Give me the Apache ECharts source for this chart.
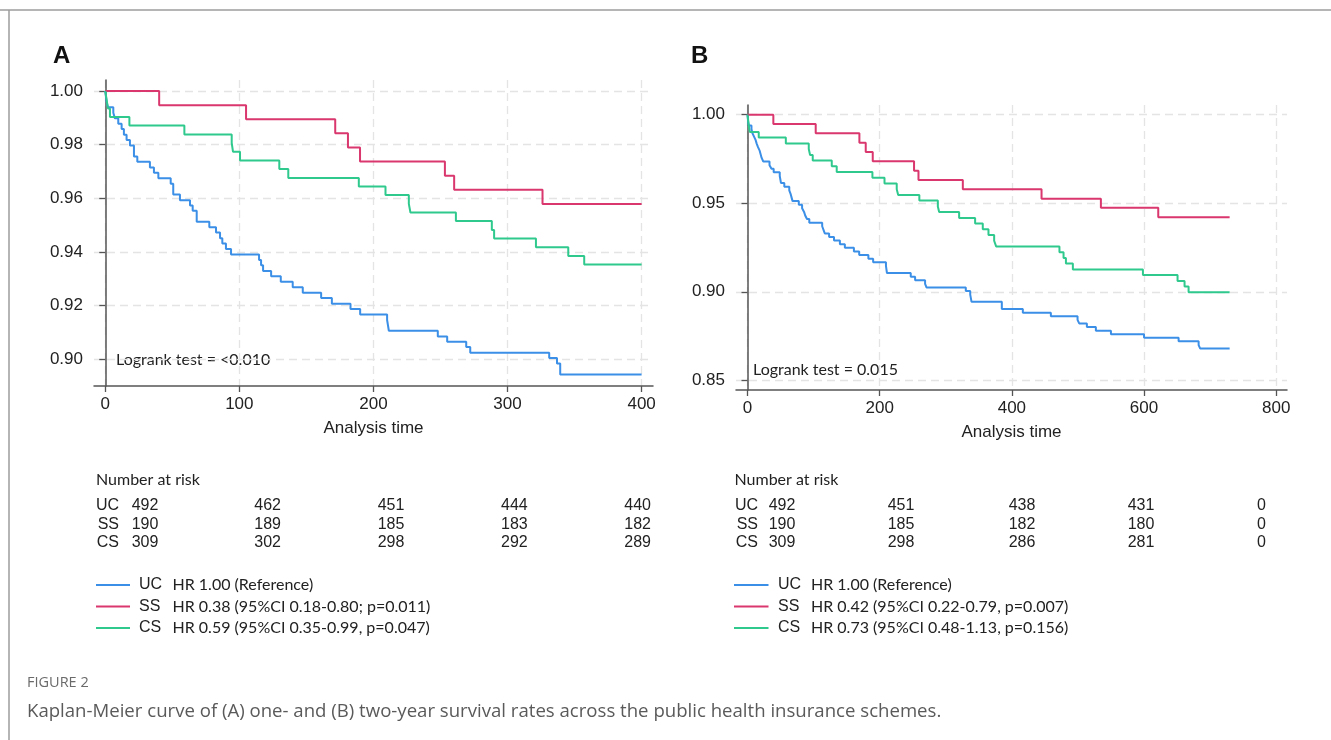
<!DOCTYPE html>
<html><head><meta charset="utf-8">
<script src="https://cdn.jsdelivr.net/npm/echarts@6/dist/echarts.min.js"></script>
<style>html,body{margin:0;padding:0;background:#fff;}#c{width:1331px;height:740px;}</style>
</head><body><div id="c"></div>
<script>
// ---------- data ----------
const groups = ['UC', 'SS', 'CS'];
const groupColors = ['#3b8fe6', '#d9376e', '#2fc98e'];

const xTicksA = [0, 100, 200, 300, 400];
const yTicksA = [0.90, 0.92, 0.94, 0.96, 0.98, 1.00];
const xTicksB = [0, 200, 400, 600, 800];
const yTicksB = [0.85, 0.90, 0.95, 1.00];

// Panel A (one-year) Kaplan-Meier steps: [time, survival]
const ucA = [[0,1],[0.5,0.9980],[1,0.9959],[2,0.9939],[6,0.9919],[7.2,0.9898],[9.7,0.9878],[12.2,0.9858],[13.9,0.9837],[15.9,0.9817],[18.4,0.9797],[21.4,0.9756],[23.9,0.9736],[33.3,0.9715],[36.3,0.9695],[39.6,0.9675],[48.8,0.9654],[50.7,0.9614],[55.7,0.9593],[63.2,0.9573],[65.2,0.9553],[68.2,0.9512],[77.6,0.9492],[82.6,0.9472],[85.6,0.9451],[87.3,0.9431],[90,0.9411],[93.8,0.9390],[114.7,0.9370],[116.2,0.9350],[117.7,0.9329],[123.7,0.9309],[130.9,0.9289],[139.8,0.9268],[147.3,0.9248],[161,0.9228],[169,0.9207],[182.9,0.9187],[190.1,0.9167],[210.2,0.9146],[211.5,0.9106],[248,0.9085],[255,0.9065],[269.2,0.9045],[272.2,0.9024],[331.1,0.9004],[336.9,0.8984],[339.3,0.8943],[400,0.8943]];
const ssA = [[0,1],[40.2,0.9947],[105,0.9895],[171.5,0.9842],[181,0.9789],[190,0.9737],[253.3,0.9684],[260.2,0.9632],[326.1,0.9579],[400,0.9579]];
const csA = [[0,1],[1,0.9968],[2,0.9935],[3.5,0.9903],[18,0.9871],[59,0.9838],[94.3,0.9806],[95.3,0.9773],[100.5,0.9741],[129.8,0.9709],[136.5,0.9676],[189.1,0.9644],[209,0.9612],[226.4,0.9579],[227.6,0.9547],[261.5,0.9515],[288.3,0.9482],[290,0.9450],[321.2,0.9417],[345.3,0.9385],[357.2,0.9353],[400,0.9353]];

// Panel B (two-year)
const ucB = [[0,1],[0.5,0.9980],[1,0.9959],[2,0.9939],[6,0.9919],[7.2,0.9898],[9.7,0.9878],[12.2,0.9858],[13.9,0.9837],[15.9,0.9817],[18.4,0.9797],[21.4,0.9756],[23.9,0.9736],[33.3,0.9715],[36.3,0.9695],[39.6,0.9675],[48.8,0.9654],[50.7,0.9614],[55.7,0.9593],[63.2,0.9573],[65.2,0.9553],[68.2,0.9512],[77.6,0.9492],[82.6,0.9472],[85.6,0.9451],[87.3,0.9431],[90,0.9411],[93.5,0.9390],[113,0.9370],[115,0.9350],[117,0.9329],[123.5,0.9309],[130.9,0.9289],[139.8,0.9268],[147.3,0.9248],[161,0.9228],[169,0.9207],[182.9,0.9187],[190.1,0.9167],[209.5,0.9146],[211,0.9106],[247,0.9085],[253.6,0.9065],[268.7,0.9045],[271,0.9024],[330.3,0.9004],[337,0.8984],[339,0.8943],[384.8,0.8902],[416.6,0.8882],[459,0.8862],[499.4,0.8841],[501.9,0.8821],[513.5,0.8801],[527.1,0.8780],[549.9,0.8760],[600,0.8740],[652.3,0.8720],[682.6,0.8699],[685,0.8679],[729.5,0.8679]];
const ssB = [[0,1],[39.1,0.9947],[103.2,0.9895],[169.3,0.9842],[178.9,0.9789],[189.5,0.9737],[252,0.9684],[258.7,0.9632],[325.8,0.9579],[444.9,0.9526],[534.7,0.9474],[621.5,0.9421],[729.5,0.9421]];
const csB = [[0,1],[1,0.9968],[2,0.9935],[3.5,0.9903],[17,0.9871],[58,0.9838],[92.7,0.9806],[94.7,0.9773],[98.7,0.9741],[127.5,0.9709],[135,0.9676],[189,0.9644],[207.3,0.9612],[225.8,0.9579],[228,0.9547],[260,0.9515],[288,0.9482],[290,0.9450],[320.2,0.9417],[344.4,0.9385],[356,0.9353],[364.6,0.9320],[373.2,0.9288],[376.2,0.9256],[472,0.9223],[478.2,0.9191],[481.8,0.9159],[492.3,0.9126],[598.3,0.9094],[650.7,0.9061],[661.3,0.9029],[667.4,0.8997],[729.5,0.8997]];

// Number at risk
const riskA = [[492, 462, 451, 444, 440], [190, 189, 185, 183, 182], [309, 302, 298, 292, 289]];
const riskB = [[492, 451, 438, 431, 0], [190, 185, 182, 180, 0], [309, 298, 286, 281, 0]];

const hrA = ['HR 1.00 (Reference)', 'HR 0.38 (95%CI 0.18-0.80; p=0.011)', 'HR 0.59 (95%CI 0.35-0.99, p=0.047)'];
const hrB = ['HR 1.00 (Reference)', 'HR 0.42 (95%CI 0.22-0.79, p=0.007)', 'HR 0.73 (95%CI 0.48-1.13, p=0.156)'];
const logrankA = 'Logrank test = <0.010';
const logrankB = 'Logrank test = 0.015';
const panelLabels = ['A', 'B'];
const axisTitle = 'Analysis time';
const riskTitle = 'Number at risk';
const figLabel = 'FIGURE 2';
const caption = 'Kaplan-Meier curve of (A) one- and (B) two-year survival rates across the public health insurance schemes.';

// ---------- chart ----------
const HEL = '"Liberation Sans", Arial, Helvetica, sans-serif';
const MYR = 'Lato, "Open Sans", sans-serif';
const gridLine = { show: true, lineStyle: { color: '#e4e4e4', width: 1.3, type: [8, 5] } };

function xAx(gi, min, max, ticks) {
  return {
    type: 'value', gridIndex: gi, min, max,
    name: axisTitle, nameLocation: 'middle', nameGap: 34,
    nameTextStyle: { fontFamily: HEL, fontSize: 17, color: '#222' },
    axisLine: { show: true, lineStyle: { color: '#555', width: 1.5 } },
    axisTick: { show: true, length: 6, customValues: ticks, lineStyle: { color: '#555', width: 1.3 } },
    axisLabel: { customValues: ticks, fontFamily: HEL, fontSize: 17, color: '#222', margin: 10 },
    splitLine: gridLine
  };
}
function yAx(gi, min, max, ticks) {
  return {
    type: 'value', gridIndex: gi, min, max,
    axisLine: { show: true, lineStyle: { color: '#555', width: 1.5 } },
    axisTick: { show: true, length: 6, customValues: ticks, lineStyle: { color: '#555', width: 1.3 } },
    axisLabel: { customValues: ticks, fontFamily: HEL, fontSize: 17, color: '#222', margin: 11,
      formatter: v => v.toFixed(2) },
    splitLine: gridLine
  };
}
function km(name, data, gi, color) {
  return { type: 'line', name, xAxisIndex: gi, yAxisIndex: gi, data, step: 'end',
    symbol: 'none', showSymbol: false, lineStyle: { color, width: 2 }, itemStyle: { color },
    animation: false, z: 3 };
}

const graphic = [];
function txt(x, y, s, font, fill, align) {
  graphic.push({ type: 'text', x, y, silent: true,
    style: { text: s, font, fill: fill || '#222', align: align || 'left', verticalAlign: 'middle',
      textAlign: align || 'left', textVerticalAlign: 'middle' } });
}
function ln(x1, y1, x2, y2, stroke, w) {
  graphic.push({ type: 'line', silent: true, shape: { x1, y1, x2, y2 }, style: { stroke, lineWidth: w } });
}

// frame
ln(0, 10, 1331, 10, '#9c9c9c', 1.5);
ln(9, 10, 9, 740, '#9c9c9c', 1.5);

// panel letters
txt(53, 56, panelLabels[0], 'bold 24px ' + HEL, '#111');
txt(691, 56, panelLabels[1], 'bold 24px ' + HEL, '#111');

// logrank notes
txt(116, 360, logrankA, '16px ' + MYR, '#222');
txt(753, 370, logrankB, '16px ' + MYR, '#222');

// risk tables
function riskTable(x0, labelRight, cols, risk) {
  txt(x0, 480, riskTitle, '16px ' + MYR, '#222');
  const rowsY = [506, 525, 543];
  risk.forEach((row, i) => {
    txt(labelRight, rowsY[i], groups[i], '16px ' + HEL, '#222', 'right');
    row.forEach((v, j) => txt(cols[j], rowsY[i], String(v), '16px ' + HEL, '#222', 'center'));
  });
}
riskTable(96, 119, [145, 267.6, 391, 514.4, 637.6], riskA);
riskTable(734.5, 758, [782, 901, 1022, 1141, 1261.5], riskB);

// legends
function legend(lx1, lx2, gx, hx, hr) {
  const ys = [585, 606.5, 628];
  hr.forEach((t, i) => {
    ln(lx1, ys[i], lx2, ys[i], groupColors[i], 2);
    txt(gx, ys[i], groups[i], '16px ' + HEL, '#222');
    txt(hx, ys[i], t, '16px ' + MYR, '#222');
  });
}
legend(96, 130, 139, 172.5, hrA);
legend(734, 768.5, 778, 811, hrB);

// caption
txt(27, 683, figLabel, '14.5px "Open Sans", sans-serif', '#6a6a6a');
txt(27, 712, caption, '18.6px "Open Sans", sans-serif', '#5a5a5a');

const option = {
  backgroundColor: '#fff',
  animation: false,
  grid: [
    { left: 94, top: 80, width: 559, height: 306 },
    { left: 736, top: 105, width: 551, height: 285 }
  ],
  xAxis: [xAx(0, -8.4, 408.5, xTicksA), xAx(1, -17.4, 816.3, xTicksB)],
  yAxis: [yAx(0, 0.89, 1.0041, yTicksA), yAx(1, 0.8445, 1.0055, yTicksB)],
  series: [
    km(groups[0], ucA, 0, groupColors[0]), km(groups[1], ssA, 0, groupColors[1]), km(groups[2], csA, 0, groupColors[2]),
    km(groups[0], ucB, 1, groupColors[0]), km(groups[1], ssB, 1, groupColors[1]), km(groups[2], csB, 1, groupColors[2])
  ],
  graphic: { elements: graphic }
};
const chart = echarts.init(document.getElementById('c'), null, { renderer: 'canvas' });
chart.setOption(option);
</script></body></html>
